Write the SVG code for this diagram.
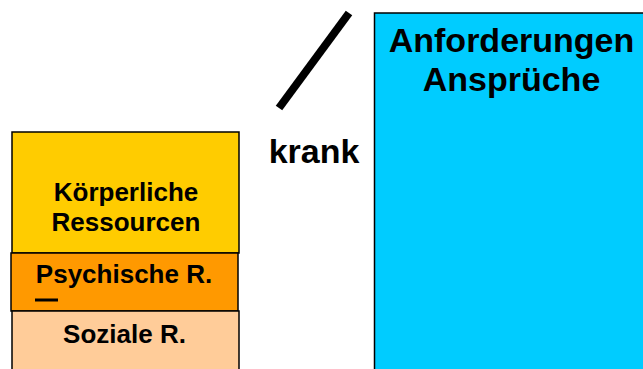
<svg xmlns="http://www.w3.org/2000/svg" width="643" height="369" viewBox="0 0 643 369">
<style>
.box{stroke:#000;stroke-width:1.5}
.t{font-family:"Liberation Sans",Arial,sans-serif;font-weight:bold;fill:#000;text-anchor:middle}
.s{font-size:26px}
.l{font-size:34px}
</style>
<rect width="643" height="369" fill="#fff"/>
<g id="anforderungen">
<rect class="box" x="374.5" y="13" width="280" height="370" fill="#00CCFF"/>
<text class="t l" x="511.5" y="52">Anforderungen</text>
<text class="t l" x="511.5" y="91">Ansprüche</text>
</g>
<g id="koerperliche">
<rect class="box" x="12" y="132" width="227" height="121" fill="#FFCC00"/>
<text class="t s" x="126" y="201">Körperliche</text>
<text class="t s" x="126" y="231">Ressourcen</text>
</g>
<g id="psychische">
<rect class="box" x="11" y="253" width="227" height="58" fill="#FF9900"/>
<text class="t s" x="124" y="283">Psychische R.</text>
<path d="M35 300 H58" stroke="#000" stroke-width="3"/>
</g>
<g id="soziale">
<rect class="box" x="12" y="311" width="227" height="70" fill="#FFCC99"/>
<text class="t s" x="124.5" y="343">Soziale R.</text>
</g>
<g id="connectors">
<line x1="349" y1="13" x2="279" y2="108" stroke="#000" stroke-width="8"/>
</g>
<g id="krank">
<text class="t l" x="314" y="163">krank</text>
</g>
</svg>
